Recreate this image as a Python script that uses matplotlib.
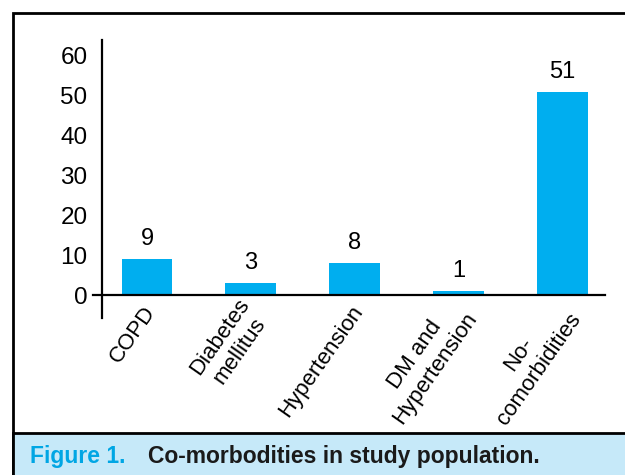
import matplotlib.pyplot as plt
from matplotlib.patches import Rectangle

# Данные
categories = ['COPD', 'Diabetes\nmellitus', 'Hypertension', 'DM and\nHypertension', 'No-\ncomorbidities']
values = [9, 3, 8, 1, 51]
yticks = [0, 10, 20, 30, 40, 50, 60]

bar_color = '#00aeef'
plt.rcParams['font.family'] = ['Liberation Sans', 'DejaVu Sans']

fig = plt.figure(figsize=(6.25, 4.75), dpi=100)
W, H = 625, 475

# Рамка и подпись рисунка
fig.patches.append(Rectangle((13 / W, -0.01), 1.0, 1 - 13 / H + 0.01, transform=fig.transFigure,
                             facecolor='white', edgecolor='black', linewidth=2, zorder=-2))
fig.patches.append(Rectangle((13 / W, -0.01), 1.0, 1 - 433 / H + 0.01, transform=fig.transFigure,
                             facecolor='#c6e9f9', edgecolor='black', linewidth=2, zorder=-1))
fig.text(30 / W, 1 - 456 / H, 'Figure 1.', color='#00a6e4', fontsize=16.5, fontweight='bold',
         va='center')
fig.text(148 / W, 1 - 456 / H, 'Co-morbodities in study population.', color='#1a1a1a',
         fontsize=16.5, fontweight='bold', va='center')

# Оси
ax = fig.add_axes([93 / W, 1 - 318 / H, (605 - 93) / W, (318 - 40) / H])
ax.set_facecolor('none')
x = list(range(len(categories)))
ax.bar(x, values, width=0.49, color=bar_color)
ax.set_xlim(-0.52, 4.41)
ax.set_ylim(-5.75, 64.0)
for s in ax.spines.values():
    s.set_visible(False)

yaxis_x = -0.434
ax.plot([yaxis_x, yaxis_x], [-5.75, 64.0], color='black', lw=1.6, clip_on=False)
ax.plot([-0.52, 4.41], [0, 0], color='black', lw=1.6, clip_on=False)

ax.set_yticks(yticks)
ax.set_yticklabels([str(t) for t in yticks], fontsize=17.5)
ax.tick_params(axis='y', length=0, pad=4)
ax.set_xticks([])

for xi, v in zip(x, values):
    ax.text(xi, v + 2.3, str(v), ha='center', va='bottom', fontsize=17)

for xi, lab in zip(x, categories):
    ax.text(xi + 0.04, -3.2, lab, rotation=55, rotation_mode='anchor', ha='right', va='center',
            multialignment='center', fontsize=16, linespacing=1.25)

fig.savefig('out.png', dpi=100)
